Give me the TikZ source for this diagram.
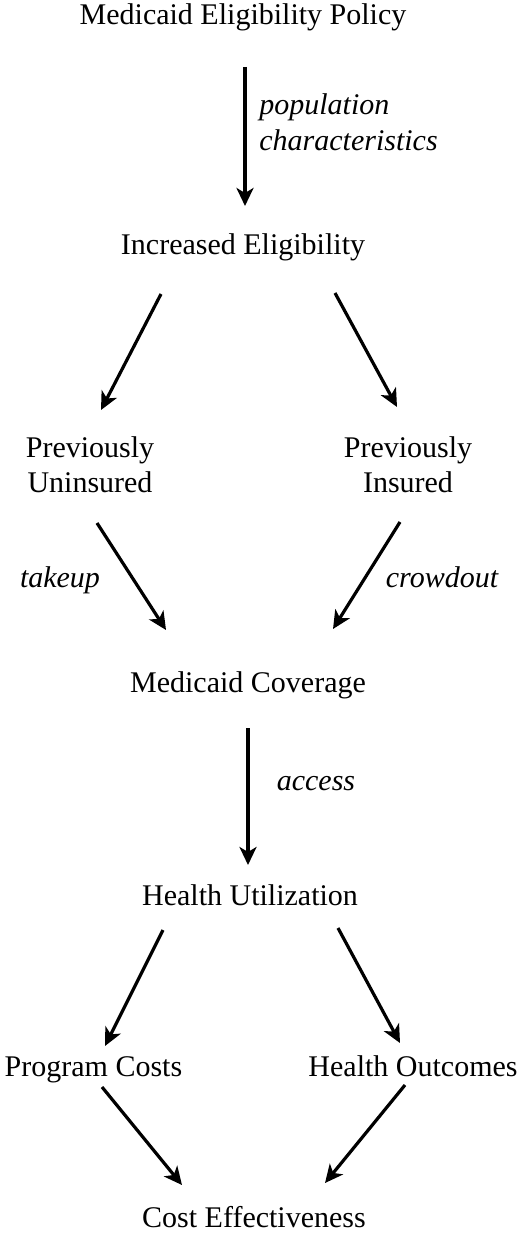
\documentclass[tikz,border=0pt]{standalone}
\usepackage{fontspec}
\setmainfont{Liberation Serif}
\usetikzlibrary{arrows.meta,calc}

\begin{document}
\begin{tikzpicture}[x=0.5pt,y=-0.5pt,
        every node/.style={inner sep=0pt,anchor=base,font=\fontsize{15}{17.5}\selectfont},
        lbl/.style={font=\fontsize{15}{18}\selectfont\itshape},
        flow/.style={line width=1.6pt,-{Stealth[length=9pt,width=8.5pt,inset=2.5pt]}}]
            \useasboundingbox (0,0) rectangle (521,1234);

            \node (policy) at (243,25) {Medicaid Eligibility Policy};
            \node (elig) at (243,255) {Increased Eligibility};
            \node[align=center] (prevun) at (90,493) {Previously\\Uninsured};
            \node[align=center] (previn) at (408,493) {Previously\\Insured};
            \node (cover) at (248,692) {Medicaid Coverage};
            \node (util) at (250,905) {Health Utilization};
            \node (costs) at (93.5,1076) {Program Costs};
            \node (outcomes) at (413,1076) {Health Outcomes};
            \node (effect) at (254,1227) {Cost Effectiveness};

            \node[lbl,anchor=base west,align=left] (pop) at (259,151) {population\\characteristics};
            \node[lbl] (takeup) at (60,587) {takeup};
            \node[lbl] (crowd) at (442,587) {crowdout};
            \node[lbl] (access) at (316,790) {access};

            \draw[flow] ($(policy.base)+(2,42)$) -- ($(elig.base)+(2,-49)$);
            \draw[flow] ($(elig.base)+(-82,39)$) -- ($(prevun.base)+(11,-83)$);
            \draw[flow] ($(elig.base)+(92,38)$) -- ($(previn.base)+(-11,-86)$);
            \draw[flow] ($(prevun.base)+(7,30)$) -- ($(cover.base)+(-82,-62)$);
            \draw[flow] ($(previn.base)+(-8,29)$) -- ($(cover.base)+(85,-63)$);
            \draw[flow] ($(cover.base)+(0,36)$) -- ($(util.base)+(-2,-40)$);
            \draw[flow] ($(util.base)+(-87,25)$) -- ($(costs.base)+(11.5,-30)$);
            \draw[flow] ($(util.base)+(88,23)$) -- ($(outcomes.base)+(-13,-33)$);
            \draw[flow] ($(costs.base)+(8.5,11)$) -- ($(effect.base)+(-72,-42)$);
            \draw[flow] ($(outcomes.base)+(-8,9)$) -- ($(effect.base)+(71,-44)$);
        \end{tikzpicture}
\end{document}
